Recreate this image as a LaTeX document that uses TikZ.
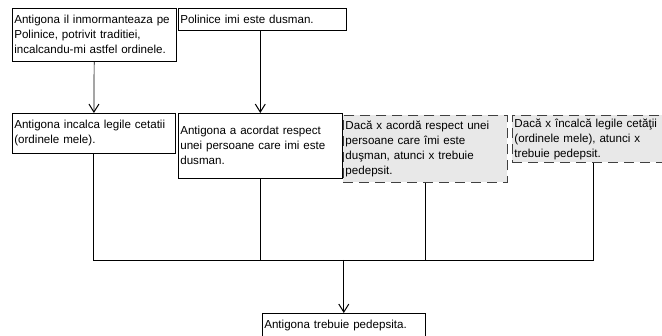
\documentclass[tikz,border=0pt]{standalone}
\usepackage{fontspec}
\setmainfont{Liberation Sans}
\usetikzlibrary{arrows.meta}

\tikzstyle{argbox} = [draw = black, line width = 0.6pt, rectangle, anchor = north west, align = left, inner xsep = 2pt, inner ysep = 2pt, font = \fontsize{11.6}{15}\selectfont]
\tikzstyle{hiddenbox} = [argbox, draw = black!75, fill = black!9, dash pattern = on 10pt off 6pt, line width = 0.9pt]
\tikzset{arr/.style = {line width = 0.7pt, -{Straight Barb[length = 8pt, width = 10pt, line width = 1pt]}}}

\begin{document}
\begin{tikzpicture}[x = 1pt, y = -1pt]
			\useasboundingbox (0,0) rectangle (662,336);
			\node[argbox, text width = 160pt, minimum height = 53pt] (prem1) at (12,8) {Antigona il inmormanteaza pe\\ Polinice, potrivit traditiei,\\ incalcandu-mi astfel ordinele.};
			\node[argbox, text width = 164pt, minimum height = 22pt] (prem2) at (178,8) {Polinice imi este dusman.};
			\node[argbox, text width = 159pt, minimum height = 40pt] (sub1) at (12,113) {Antigona incalca legile cetatii\\ (ordinele mele).};
			\node[argbox, text width = 160pt, minimum height = 65pt] (sub2) at (178,113) {Antigona a acordat respect\\ unei persoane care imi este\\ dusman.};
			\node[hiddenbox, text width = 160pt, minimum height = 67pt] (hid1) at (343,115) {Dacă x acordă respect unei\\ persoane care îmi este\\ duşman, atunci x trebuie\\ pedepsit.};
			\node[hiddenbox, text width = 158pt, minimum height = 47pt] (hid2) at (512,115) {Dacă x încalcă legile cetăţii\\ (ordinele mele), atunci x\\ trebuie pedepsit.};
			\node[argbox, text width = 159pt, minimum height = 24pt] (concl) at (262,313) {Antigona trebuie pedepsita.};
			\coordinate (join) at (concl.north |- 0,260);
			% premise -> subconclusion
			\draw[arr] (prem1) -- (sub1);
			\draw[arr] (prem2) -- (sub2 |- prem2.south) -- (sub2);
			% all reasons meet above the conclusion
			\draw[line width = 0.7pt] (sub1) |- (join);
			\draw[line width = 0.7pt] (sub2) |- (join);
			\draw[line width = 0.7pt] (hid1) |- (join);
			\draw[line width = 0.7pt] (hid2) |- (join);
			\draw[arr] (join) -- (concl);
		\end{tikzpicture}
\end{document}
